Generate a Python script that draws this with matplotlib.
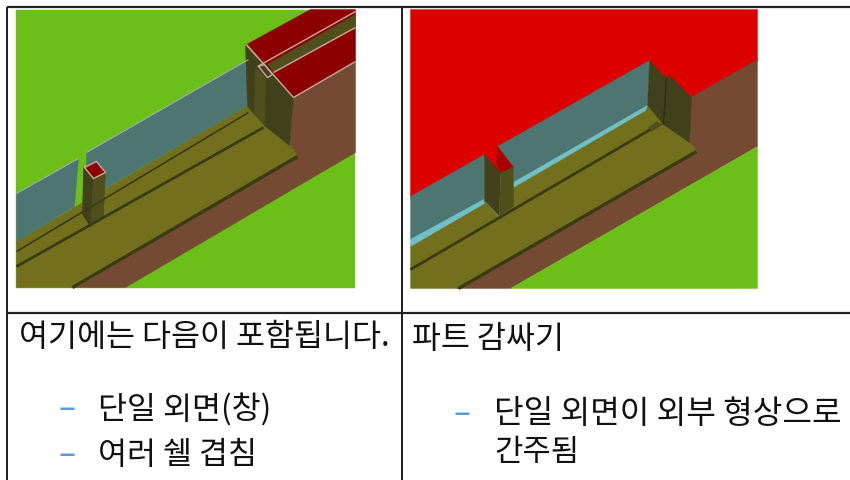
import matplotlib
matplotlib.use("Agg")
import matplotlib.pyplot as plt
from matplotlib.patches import Polygon

plt.rcParams['font.family'] = ['Noto Sans CJK KR', 'DejaVu Sans']

GREEN = '#6cbf18'
RED = '#dd0000'
DARK_RED = '#8c0000'
BROWN = '#744a33'
OLIVE = '#72701c'
DARK_OLIVE = '#40401a'
MID_OLIVE = '#4f4f1c'
GLASS = '#4d7673'
CYAN = '#6fbfc6'
EDGE = '#c9a9a0'

# ---- left picture ----
left_box = [(16, 10), (355, 10), (355, 288), (16, 288)]
left_shapes = [
    (GREEN, left_box),
    (BROWN, [(293, 98), (355, 62), (355, 153), (125, 288), (70, 288), (297, 157), (289, 146)]),
    (OLIVE, [(247, 106), (265, 126), (289, 145), (297, 156), (76, 288), (16, 288), (16, 242)]),
    (GLASS, [(86, 153), (248, 60), (247, 106), (86, 200)]),
    (GLASS, [(16, 194), (78, 159), (74, 207), (16, 242)]),
    (DARK_RED, [(246, 45), (310, 10), (355, 10), (355, 62), (293, 98)]),
    (DARK_OLIVE, [(245, 46), (293, 98), (289, 146), (265, 127), (247, 107)]),
    (MID_OLIVE, [(255, 68), (265, 78), (264, 126), (254, 114)]),
    (MID_OLIVE, [(267, 65), (355, 15), (355, 28), (273, 73)]),
    (DARK_OLIVE, [(83, 168), (93, 179), (90, 227), (82, 215)]),
    (MID_OLIVE, [(93, 179), (105, 173), (103, 217), (90, 227)]),
    (DARK_RED, [(84, 168), (96, 162), (105, 173), (93, 179)]),
]
left_lines = [
    ('#3a3a14', 1.2, [(16, 252), (248, 113)]),
    ('#3a3a14', 2.0, [(16, 267), (263, 128)]),
    ('#3a3a14', 2.4, [(72, 288), (297, 157)]),
    (EDGE, 1.0, [(246, 45), (293, 98), (355, 62)]),
    (EDGE, 1.0, [(257, 67), (355, 12)]),
    (EDGE, 1.0, [(273, 73), (355, 28)]),
    (EDGE, 1.0, [(258, 67), (267, 78), (272, 75), (264, 65), (258, 67)]),
    (EDGE, 1.0, [(84, 168), (96, 162), (105, 173), (93, 179), (84, 168)]),
    ('#9fb4a8', 0.8, [(86, 153), (248, 60)]),
    ('#9fb4a8', 0.8, [(16, 194), (78, 159)]),
]

# ---- right picture ----
right_red = [(410, 10), (757, 10), (757, 62), (691, 100), (669, 78), (666, 81), (649, 63),
             (513, 169), (500, 175), (486, 157), (410, 199)]
right_shapes = [
    (RED, right_red),
    (BROWN, [(690, 98), (757, 60), (757, 147), (510, 289), (456, 289), (696, 152), (689, 143)]),
    (GREEN, [(510, 289), (757, 147), (757, 289)]),
    (OLIVE, [(647, 106), (663, 124), (689, 142), (696, 152), (458, 289), (410, 289), (410, 245),
             (483, 200), (499, 218), (512, 207), (513, 186)]),
    (GLASS, [(497, 147), (649, 61), (647, 106), (513, 183), (513, 167)]),
    (GLASS, [(410, 197), (484, 155), (484, 200), (410, 240)]),
    (CYAN, [(410, 240), (483, 200), (484, 204), (410, 247)]),
    (CYAN, [(513, 183), (647, 106), (645, 111), (513, 188)]),
    (DARK_OLIVE, [(649, 61), (666, 79), (669, 76), (691, 98), (689, 143), (663, 125), (647, 106)]),
    (DARK_OLIVE, [(484, 155), (500, 173), (499, 217), (484, 201)]),
    (MID_OLIVE, [(500, 173), (513, 167), (513, 207), (499, 217)]),
    ('#a80000', [(497, 147), (512, 167), (500, 173), (496, 163)]),
    (MID_OLIVE, [(648, 128), (656, 122), (662, 125), (651, 132)]),
]
right_lines = [
    ('#3a3a14', 2.0, [(410, 270), (650, 130)]),
    ('#3a3a14', 2.4, [(458, 289), (696, 152)]),
    ('#2e2e10', 1.0, [(666, 79), (663, 125)]),
]

# ---- table and text ----
table_lines = [
    (2.2, [(7, 7), (850, 7)]),
    (2.2, [(7, 313), (850, 313)]),
    (2.0, [(7, 7), (7, 481)]),
    (2.0, [(402, 7), (402, 481)]),
]
cell_texts = [
    (19, 337, '여기에는 다음이 포함됩니다.', 22.7),
    (98, 409, '단일 외면(창)', 22.7),
    (98, 455, '여러 쉘 겹침', 22.7),
    (412, 339, '파트 감싸기', 22.7),
    (494, 414, '단일 외면이 외부 형상으로', 23.2),
    (494, 452, '간주됨', 22.2),
]
dashes = [(58, 409), (58, 455), (453, 414)]

fig = plt.figure(figsize=(8.5, 4.81), dpi=100)
ax = fig.add_axes([0, 0, 1, 1])
ax.set_xlim(-0.5, 849.5)
ax.set_ylim(480.5, -0.5)
ax.axis('off')

for color, pts in left_shapes + right_shapes:
    ax.add_patch(Polygon(pts, closed=True, facecolor=color, edgecolor=color, lw=0.3))
for color, w, pts in left_lines + right_lines:
    ax.plot([p[0] for p in pts], [p[1] for p in pts], color=color, lw=w, solid_capstyle='butt')

for w, pts in table_lines:
    ax.plot([p[0] for p in pts], [p[1] for p in pts], color='#222222', lw=w * 0.72, solid_capstyle='butt')

for x, y, s, size in cell_texts:
    ax.text(x, y, s, fontsize=size, color='#111111', va='center', ha='left')
for x, y in dashes:
    ax.text(x, y, '–', fontsize=22.7, color='#5b9bd5', va='center', ha='left')

fig.savefig('out.png', dpi=100)
